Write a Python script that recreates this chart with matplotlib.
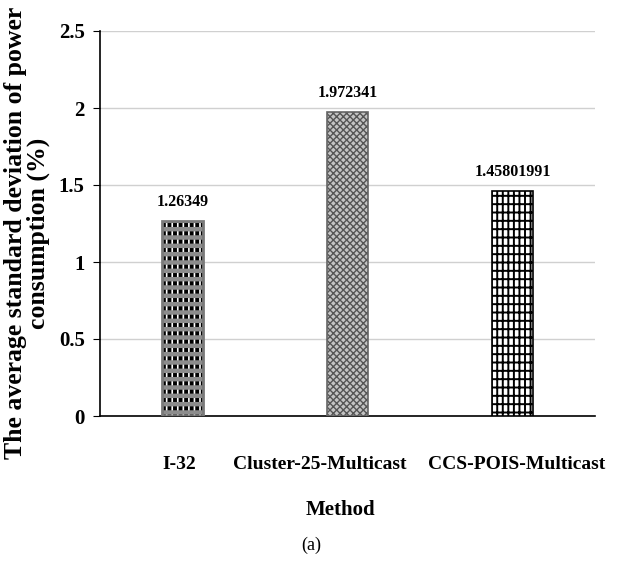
import matplotlib
matplotlib.use("Agg")
import matplotlib.pyplot as plt
from matplotlib.transforms import ScaledTranslation

methods = ["I-32", "Cluster-25-Multicast", "CCS-POIS-Multicast"]
values = [1.26349, 1.972341, 1.45801991]
value_labels = ["1.26349", "1.972341", "1.45801991"]
yticks = [0, 0.5, 1, 1.5, 2, 2.5]
ytick_labels = ["0", "0.5", "1", "1.5", "2", "2.5"]

plt.rcParams['font.family'] = ['Liberation Serif', 'DejaVu Serif']

W, H = 622, 561
fig = plt.figure(figsize=(W / 100, H / 100), dpi=100)
ax = fig.add_axes([100 / W, 1 - 416 / H, 495 / W, 385 / H])

x = list(range(len(methods)))
BW = 0.25


def hbar(i, face, hatch, color, hlw, lw=0.0, edge=None):
    b = ax.bar(i, values[i], width=BW, facecolor=face, hatch=hatch,
               edgecolor=color, linewidth=lw, zorder=3)[0]
    if hasattr(b, 'set_hatch_linewidth'):
        b.set_hatch_linewidth(hlw)
    return b


# bar 1: white with black vertical stripes and gray horizontal bands
with plt.rc_context({'hatch.linewidth': 2.8}):
    hbar(0, 'white', '|||', 'black', 2.8)
with plt.rc_context({'hatch.linewidth': 3.2}):
    hbar(0, 'none', '--', '#8c8c8c', 3.2)
ax.bar(0, values[0], width=BW, facecolor='none', edgecolor='#7a7a7a',
       linewidth=2, zorder=4)

# bar 2: gray fine crosshatch
with plt.rc_context({'hatch.linewidth': 1.0}):
    hbar(1, '#c4c4c4', 'xxxxx', '#555555', 1.0)
ax.bar(1, values[1], width=BW, facecolor='none', edgecolor='#666666',
       linewidth=1.2, zorder=4)

# bar 3: white with black grid
with plt.rc_context({'hatch.linewidth': 1.4}):
    hbar(2, 'white', '|||--', 'black', 1.4)
ax.bar(2, values[2], width=BW, facecolor='none', edgecolor='black',
       linewidth=1.2, zorder=4)

for i in x:
    ax.annotate(value_labels[i], (i, values[i]), xytext=(0, 8),
                textcoords='offset points', ha='center', va='bottom',
                fontsize=11.5, fontweight='bold')

ax.set_xlim(-0.5, 2.5)
ax.set_ylim(0, 2.5)
ax.set_yticks(yticks)
ax.set_yticklabels(ytick_labels, fontsize=15, fontweight='bold')
ax.set_xticks(x)
ax.set_xticklabels(methods, fontsize=14, fontweight='bold')
ax.tick_params(axis='x', length=0, pad=29)
ax.tick_params(axis='y', length=5, direction='out', pad=6)
shifts = [-3, -28, 4]
for lab, dx in zip(ax.get_xticklabels(), shifts):
    lab.set_transform(lab.get_transform() + ScaledTranslation(dx / 100, 0, fig.dpi_scale_trans))
ax.yaxis.grid(True, color='#d0d0d0', linewidth=1, zorder=0)
ax.set_axisbelow(True)
for s in ['top', 'right']:
    ax.spines[s].set_visible(False)
ax.spines['left'].set_linewidth(1.2)
ax.spines['bottom'].set_linewidth(1.2)

fig.text(340 / W, 1 - 510 / H, "Method", ha='center', va='center',
         fontsize=15, fontweight='bold')
fig.text(27 / W, 1 - 233 / H,
         "The average standard deviation of power\nconsumption (%)",
         rotation=90, ha='center', va='center', multialignment='center',
         fontsize=18.5, fontweight='bold', linespacing=0.95)

fig.text(311 / W, 1 - 545 / H, "(a)", ha='center', va='center', fontsize=13)

fig.savefig("out.png", dpi=100)
